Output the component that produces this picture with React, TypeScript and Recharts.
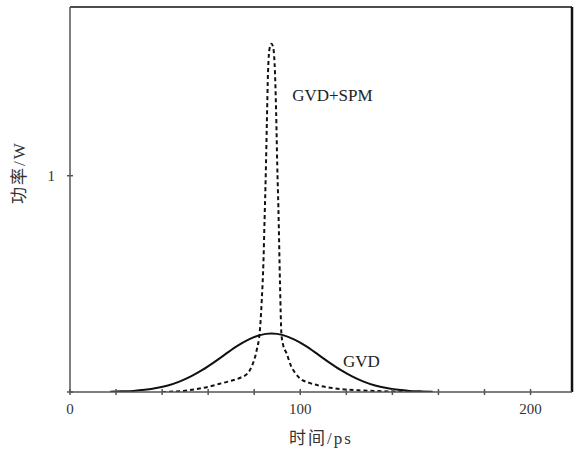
import React from 'react';
import { ComposedChart, Line, XAxis, YAxis, ReferenceLine, ReferenceDot } from 'recharts';

// solid curve: GVD only
const gvdTime = [17.5, 22.5, 27.5, 32.5, 37.5, 42.5, 47.5, 52.5, 57.5, 62.5, 67.5, 72.5, 77.5, 82.5, 87.5, 92.5, 97.5, 102.5, 107.5, 112.5, 117.5, 122.5, 127.5, 132.5, 137.5, 142.5, 147.5, 152.5, 157.5];
const gvdPower = [0.001, 0.003, 0.005, 0.01, 0.018, 0.03, 0.048, 0.072, 0.102, 0.137, 0.175, 0.212, 0.242, 0.263, 0.27, 0.263, 0.242, 0.212, 0.175, 0.137, 0.102, 0.072, 0.048, 0.03, 0.018, 0.01, 0.005, 0.003, 0.001];

// dashed curve: GVD + SPM
const spmTime = [40, 45, 50, 55, 60, 65, 70, 74, 77, 79, 81, 82.5, 83.3, 84, 84.5, 85, 85.5, 86, 86.7, 87.5, 88.3, 89, 89.5, 90, 90.5, 91.2, 91.8, 92.5, 94, 96, 98, 100, 104, 108, 113, 118, 125, 132, 140, 148];
const spmPower = [0, 0.002, 0.006, 0.014, 0.024, 0.038, 0.052, 0.066, 0.085, 0.12, 0.19, 0.29, 0.43, 0.6, 0.8, 1.0, 1.25, 1.48, 1.59, 1.61, 1.59, 1.48, 1.3, 1.05, 0.85, 0.5, 0.27, 0.22, 0.18, 0.12, 0.085, 0.062, 0.042, 0.03, 0.02, 0.013, 0.008, 0.005, 0.002, 0];

const xTicks = [0, 20, 40, 60, 80, 100, 120, 140, 160, 180, 200];
const xLabels = [0, 100, 200];
const yTicks = [0, 1];
const yLabels = [1];

const X_MAX = 218;
const Y_MAX = 1.78;

const gvdData = gvdTime.map((t, i) => ({ t, p: gvdPower[i] }));
const spmData = spmTime.map((t, i) => ({ t, p: spmPower[i] }));

const FONT = "'Liberation Serif', 'Noto Sans CJK SC', serif";
const AXIS = '#555';

const XTick = (props: any) => {
  const { x, y, payload } = props;
  return (
    <g>
      <line x1={x} x2={x} y1={y - 3} y2={y + 3} stroke={AXIS} strokeWidth={1.5} />
      {xLabels.includes(payload.value) && (
        <text x={x} y={y + 22} textAnchor="middle" fontSize={15} fontFamily={FONT} fill="#333">
          {payload.value}
        </text>
      )}
    </g>
  );
};

const YTick = (props: any) => {
  const { x, y, payload } = props;
  return (
    <g>
      <line x1={x - 3} x2={x + 3} y1={y} y2={y} stroke={AXIS} strokeWidth={1.5} />
      {yLabels.includes(payload.value) && (
        <text x={x - 15} y={y + 5} textAnchor="end" fontSize={15} fontFamily={FONT} fill="#333">
          {payload.value}
        </text>
      )}
    </g>
  );
};

const XTitle = (props: any) => {
  const { viewBox } = props;
  const cx = viewBox.x + viewBox.width / 2;
  return (
    <text x={cx} y={viewBox.y + 52} textAnchor="middle" fontSize={17} letterSpacing={2} fontFamily={FONT} fill="#333">
      时间/ps
    </text>
  );
};

const YTitle = (props: any) => {
  const { viewBox } = props;
  const cx = viewBox.x + 10;
  const cy = viewBox.y + viewBox.height * 0.43;
  return (
    <text
      x={cx}
      y={cy}
      transform={`rotate(-90, ${cx}, ${cy})`}
      textAnchor="middle"
      dominantBaseline="central"
      fontSize={17}
      letterSpacing={2}
      fontFamily={FONT}
      fill="#333"
    >
      功率/W
    </text>
  );
};

const CurveLabel = (text: string) => (p: any) => (
  <text x={p.cx} y={p.cy} dy={5} fontSize={17} fontFamily={FONT} fill="#222">
    {text}
  </text>
);

export default function App() {
  return (
    <div style={{ position: 'absolute', left: 0, top: 0, background: '#fff' }}>
      <ComposedChart width={575} height={450} margin={{ top: 7, right: 3, bottom: 0, left: 10 }}>
        <XAxis
          type="number"
          dataKey="t"
          domain={[0, X_MAX]}
          ticks={xTicks}
          allowDataOverflow
          stroke={AXIS}
          strokeWidth={1.5}
          tickLine={false}
          tickSize={0}
          tickMargin={0}
          tick={<XTick />}
          height={58}
          label={<XTitle />}
        />
        <YAxis
          type="number"
          domain={[0, Y_MAX]}
          ticks={yTicks}
          allowDataOverflow
          stroke={AXIS}
          strokeWidth={1.5}
          tickLine={false}
          tickSize={0}
          tickMargin={0}
          tick={<YTick />}
          width={60}
          label={<YTitle />}
        />
        <ReferenceLine y={Y_MAX} stroke="#111" strokeWidth={1.5} />
        <ReferenceLine x={X_MAX} stroke="#111" strokeWidth={2.5} />
        <Line
          data={gvdData}
          dataKey="p"
          type="monotone"
          stroke="#111"
          strokeWidth={2}
          dot={false}
          isAnimationActive={false}
        />
        <Line
          data={spmData}
          dataKey="p"
          type="monotone"
          stroke="#111"
          strokeWidth={2}
          strokeDasharray="4 3"
          dot={false}
          isAnimationActive={false}
        />
        <ReferenceDot x={96.5} y={1.37} r={0} shape={CurveLabel('GVD+SPM')} />
        <ReferenceDot x={118.5} y={0.14} r={0} shape={CurveLabel('GVD')} />
      </ComposedChart>
    </div>
  );
}
